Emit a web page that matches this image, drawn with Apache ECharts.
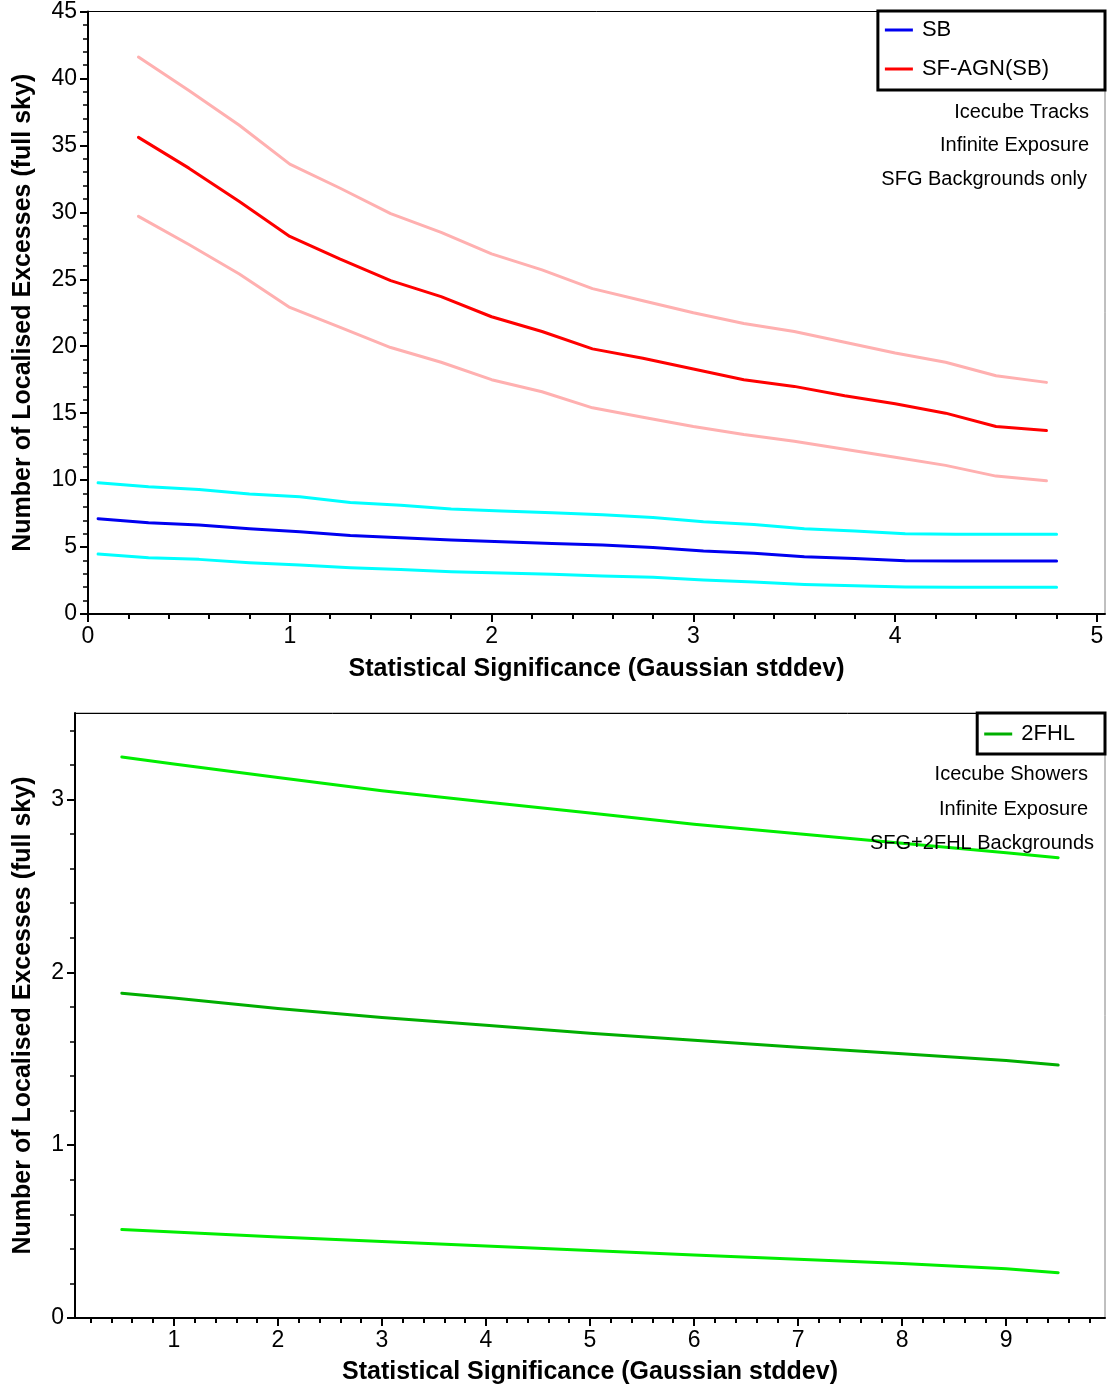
<!DOCTYPE html>
<html>
<head>
<meta charset="utf-8">
<script src="https://cdn.jsdelivr.net/npm/echarts@6/dist/echarts.min.js"></script>
<style>html,body{margin:0;padding:0;background:#fff}#c{width:1113px;height:1392px}</style>
</head>
<body>
<div id="c"></div>
<script>
// ---------- Top panel (Icecube Tracks) ----------
var sfX   = [0.25,0.5,0.75,1.0,1.25,1.5,1.75,2.0,2.25,2.5,2.75,3.0,3.25,3.5,3.75,4.0,4.25,4.5,4.75];
var sfMid = [35.6,33.3,30.8,28.2,26.5,24.9,23.7,22.2,21.1,19.8,19.1,18.3,17.5,17.0,16.3,15.7,15.0,14.0,13.7];
var sfUp  = [41.6,39.1,36.5,33.6,31.8,29.9,28.5,26.9,25.7,24.3,23.4,22.5,21.7,21.1,20.3,19.5,18.8,17.8,17.3];
var sfLo  = [29.7,27.6,25.4,22.9,21.4,19.9,18.8,17.5,16.6,15.4,14.7,14.0,13.4,12.9,12.3,11.7,11.1,10.3,9.95];

var sbX   = [0.05,0.3,0.55,0.8,1.05,1.3,1.55,1.8,2.05,2.3,2.55,2.8,3.05,3.3,3.55,3.8,4.05,4.3,4.55,4.8];
var sbUp  = [9.80,9.50,9.30,8.96,8.76,8.33,8.13,7.84,7.69,7.57,7.41,7.21,6.89,6.69,6.37,6.19,5.99,5.95,5.95,5.95];
var sbMid = [7.12,6.82,6.64,6.37,6.14,5.87,5.70,5.52,5.40,5.27,5.15,4.97,4.70,4.53,4.28,4.15,3.98,3.96,3.96,3.96];
var sbLo  = [4.48,4.20,4.08,3.83,3.66,3.46,3.33,3.16,3.06,2.96,2.84,2.74,2.54,2.39,2.21,2.11,2.01,1.99,1.99,1.99];

var topXTicks = [0,1,2,3,4,5];
var topYTicks = [0,5,10,15,20,25,30,35,40,45];
var topNotes  = ['Icecube Tracks','Infinite Exposure','SFG Backgrounds only'];

// ---------- Bottom panel (Icecube Showers) ----------
var fhlX   = [0.5,1,2,3,4,5,6,7,8,9,9.5];
var fhlUp  = [3.246,3.205,3.127,3.050,2.985,2.921,2.856,2.802,2.747,2.692,2.663];
var fhlMid = [1.879,1.851,1.791,1.738,1.693,1.648,1.607,1.567,1.529,1.490,1.463];
var fhlLo  = [0.512,0.497,0.469,0.442,0.416,0.391,0.365,0.340,0.315,0.285,0.262];

var botXTicks = [1,2,3,4,5,6,7,8,9];
var botYTicks = [0,1,2,3];
var botNotes  = ['Icecube Showers','Infinite Exposure','SFG+2FHL Backgrounds'];

var xTitle = 'Statistical Significance (Gaussian stddev)';
var yTitle = 'Number of Localised Excesses (full sky)';

// ---------- helpers ----------
function pairs(xs, ys){ return xs.map(function(x,i){ return [x, ys[i]]; }); }
function minorList(lo, hi, step, majors){
  var out = [];
  for (var k = Math.ceil(lo/step - 1e-9); k*step <= hi + 1e-9; k++){
    var v = Math.round(k*step*1000)/1000;
    if (majors.indexOf(v) < 0 && v > lo && v < hi) out.push(v);
  }
  return out;
}
var FONT = 'Liberation Sans, Arial, Helvetica, sans-serif';

var TOPX = [0, 5.04], TOPY = [0, 45];
var BOTX = [0.05, 9.95], BOTY = [0, 3.5];

function mainX(grid, ext, ticks, gap){
  return {
    type:'value', gridIndex:grid, position:'bottom', min:ext[0], max:ext[1],
    name:xTitle, nameLocation:'middle', nameGap:gap,
    nameTextStyle:{fontFamily:FONT, fontWeight:'bold', fontSize:25, color:'#000'},
    axisLine:{show:true, onZero:false, lineStyle:{color:'#000', width:2}},
    axisTick:{show:true, length:8, customValues:ticks, lineStyle:{color:'#000', width:2}},
    axisLabel:{show:true, customValues:ticks, margin:11, fontFamily:FONT, fontSize:23, color:'#000'},
    splitLine:{show:false}
  };
}
function minorX(grid, ext, vals){
  return {
    type:'value', gridIndex:grid, position:'bottom', min:ext[0], max:ext[1],
    axisLine:{show:false, onZero:false},
    axisTick:{show:true, length:5, customValues:vals, lineStyle:{color:'#000', width:2}},
    axisLabel:{show:false}, splitLine:{show:false}
  };
}
function frameTop(grid, ext){
  return {
    type:'value', gridIndex:grid, position:'top', min:ext[0], max:ext[1],
    axisLine:{show:true, onZero:false, lineStyle:{color:'#000', width:1}},
    axisTick:{show:false}, axisLabel:{show:false}, splitLine:{show:false}
  };
}
function mainY(grid, ext, ticks, gap){
  return {
    type:'value', gridIndex:grid, position:'left', min:ext[0], max:ext[1],
    name:yTitle, nameLocation:'middle', nameGap:gap, nameRotate:90,
    nameTextStyle:{fontFamily:FONT, fontWeight:'bold', fontSize:25, color:'#000'},
    axisLine:{show:true, onZero:false, lineStyle:{color:'#000', width:2}},
    axisTick:{show:true, length:8, customValues:ticks, lineStyle:{color:'#000', width:2}},
    axisLabel:{show:true, customValues:ticks, margin:11, fontFamily:FONT, fontSize:23, color:'#000'},
    splitLine:{show:false}
  };
}
function minorY(grid, ext, vals){
  return {
    type:'value', gridIndex:grid, position:'left', min:ext[0], max:ext[1],
    axisLine:{show:false, onZero:false},
    axisTick:{show:true, length:5, customValues:vals, lineStyle:{color:'#000', width:1.5}},
    axisLabel:{show:false}, splitLine:{show:false}
  };
}
function line(name, xi, yi, data, color, width){
  return {
    type:'line', name:name, xAxisIndex:xi, yAxisIndex:yi, data:data,
    symbol:'none', showSymbol:false, smooth:false, silent:true,
    lineStyle:{color:color, width:width, cap:'round', join:'round'}, itemStyle:{color:color},
    animation:false, z:3
  };
}
function notes(list, rights, ys){
  return list.map(function(t,i){
    return {type:'text', z:100, style:{text:t, x:rights[i], y:ys[i], textAlign:'right', textVerticalAlign:'middle',
      fontFamily:FONT, fontSize:20, fill:'#000'}};
  });
}

var PINK='#ffb0b0', RED='#ff0000', CYAN='#00ffff', BLUE='#0000f0', LGREEN='#00ee00', DGREEN='#00ae00';

var option = {
  animation:false,
  backgroundColor:'#fff',
  grid:[
    {left:88, top:11, width:1017, height:603, show:true, borderColor:'#808080', borderWidth:1},
    {left:75, top:713, width:1030, height:605, show:true, borderColor:'#808080', borderWidth:1}
  ],
  xAxis:[
    mainX(0, TOPX, topXTicks, 43),
    minorX(0, TOPX, minorList(TOPX[0], 5, 0.2, topXTicks)),
    frameTop(0, TOPX),
    mainX(1, BOTX, botXTicks, 42),
    minorX(1, BOTX, minorList(BOTX[0], BOTX[1], 0.2, botXTicks)),
    frameTop(1, BOTX)
  ],
  yAxis:[
    mainY(0, TOPY, topYTicks, 52),
    minorY(0, TOPY, minorList(TOPY[0], TOPY[1], 1, topYTicks)),
    mainY(1, BOTY, botYTicks, 39),
    minorY(1, BOTY, minorList(BOTY[0], BOTY[1], 0.2, botYTicks))
  ],
  legend:[
    {data:[{name:'SB', icon:'rect'},{name:'SF-AGN(SB)', icon:'rect'}], orient:'vertical', right:8, top:11, align:'left',
     padding:[7,56,9,7], itemGap:15, itemWidth:28, itemHeight:3,
     borderColor:'#000', borderWidth:3, backgroundColor:'#fff',
     textStyle:{fontFamily:FONT, fontSize:22, color:'#000', lineHeight:24, padding:[0,0,0,4]}},
    {data:[{name:'2FHL', icon:'rect'}], orient:'vertical', right:8, top:713, align:'left',
     padding:[9,30,8,7], itemWidth:28, itemHeight:3,
     borderColor:'#000', borderWidth:3, backgroundColor:'#fff',
     textStyle:{fontFamily:FONT, fontSize:22, color:'#000', lineHeight:24, padding:[0,0,0,4]}}
  ],
  graphic:[].concat(
    notes(topNotes, [1089,1089,1087], [112,145,179]),
    notes(botNotes, [1088,1088,1094], [774,809,843])
  ),
  series:[
    line('SB upper', 0, 0, pairs(sbX, sbUp), CYAN, 3),
    line('SB lower', 0, 0, pairs(sbX, sbLo), CYAN, 3),
    line('SB', 0, 0, pairs(sbX, sbMid), BLUE, 3),
    line('SF-AGN upper', 0, 0, pairs(sfX, sfUp), PINK, 3),
    line('SF-AGN lower', 0, 0, pairs(sfX, sfLo), PINK, 3),
    line('SF-AGN(SB)', 0, 0, pairs(sfX, sfMid), RED, 3),
    line('2FHL upper', 3, 2, pairs(fhlX, fhlUp), LGREEN, 3),
    line('2FHL lower', 3, 2, pairs(fhlX, fhlLo), LGREEN, 3),
    line('2FHL', 3, 2, pairs(fhlX, fhlMid), DGREEN, 3)
  ]
};

var chart = echarts.init(document.getElementById('c'), null, {renderer:'canvas'});
chart.setOption(option);
</script>
</body>
</html>
